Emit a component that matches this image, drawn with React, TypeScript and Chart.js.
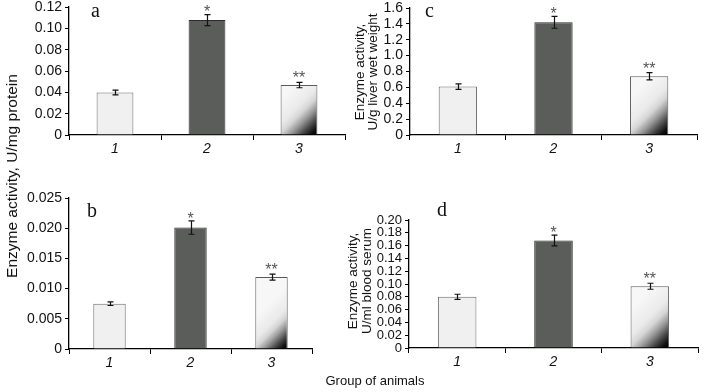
import { useEffect, useRef } from "react";
import { Chart, registerables } from "chart.js";

Chart.register(...registerables);

// ---------- data ----------
const groups = ["1", "2", "3"];
const marks = ["", "*", "**"];

const aValues = [0.0398, 0.1077, 0.0468];
const aErrors = [0.0022, 0.0052, 0.0025];
const aTicks = [0, 0.02, 0.04, 0.06, 0.08, 0.1, 0.12];
const aTickLabels = ["0", "0.02", "0.04", "0.06", "0.08", "0.10", "0.12"];

const bValues = [0.0075, 0.0201, 0.0119];
const bErrors = [0.0003, 0.0011, 0.0005];
const bTicks = [0, 0.005, 0.01, 0.015, 0.02, 0.025];
const bTickLabels = ["0", "0.005", "0.010", "0.015", "0.020", "0.025"];

const cValues = [0.61, 1.42, 0.74];
const cErrors = [0.035, 0.075, 0.045];
const cTicks = [0, 0.2, 0.4, 0.6, 0.8, 1.0, 1.2, 1.4, 1.6];
const cTickLabels = ["0", "0.2", "0.4", "0.6", "0.8", "1.0", "1.2", "1.4", "1.6"];

const dValues = [0.08, 0.168, 0.0965];
const dErrors = [0.004, 0.0083, 0.0047];
const dTicks = [0, 0.02, 0.04, 0.06, 0.08, 0.1, 0.12, 0.14, 0.16, 0.18, 0.2];
const dTickLabels = ["0", "0.02", "0.04", "0.06", "0.08", "0.10", "0.12", "0.14", "0.16", "0.18", "0.20"];

const sharedYTitle = "Enzyme activity, U/mg protein";
const cYTitle = ["Enzyme activity,", "U/g liver wet weight"];
const dYTitle = ["Enzyme activity,", "U/ml blood serum"];
const xTitle = "Group of animals";

// ---------- styling / layout ----------
const SANS = "'Liberation Sans', Arial, Helvetica, sans-serif";
const SERIF = "'Liberation Serif', 'Times New Roman', serif";
const fills = ["#f0f0f0", "#5b5d5b", "#eeeeee"];
const borders = ["#6a6a6a", "#2a2a2a", "#5a5a5a"];

type Panel = {
  letter: string;
  values: number[];
  errors: number[];
  ticks: number[];
  tickLabels: string[];
  box: { left: number; top: number; w: number; h: number };
  area: { l: number; r: number; t: number; b: number };
  letterPos: { x: number; y: number };
  tickFont: number;
};

const panels: Panel[] = [
  {
    letter: "a", values: aValues, errors: aErrors, ticks: aTicks, tickLabels: aTickLabels,
    box: { left: 0, top: 0, w: 350, h: 160 }, area: { l: 69, r: 345, t: 7, b: 135 },
    letterPos: { x: 91, y: 17 }, tickFont: 14,
  },
  {
    letter: "b", values: bValues, errors: bErrors, ticks: bTicks, tickLabels: bTickLabels,
    box: { left: 0, top: 160, w: 350, h: 215 }, area: { l: 69, r: 312, t: 38, b: 189 },
    letterPos: { x: 87, y: 57 }, tickFont: 14,
  },
  {
    letter: "c", values: cValues, errors: cErrors, ticks: cTicks, tickLabels: cTickLabels,
    box: { left: 350, top: 0, w: 353, h: 160 }, area: { l: 60, r: 347, t: 8, b: 135 },
    letterPos: { x: 75, y: 17 }, tickFont: 14,
  },
  {
    letter: "d", values: dValues, errors: dErrors, ticks: dTicks, tickLabels: dTickLabels,
    box: { left: 350, top: 160, w: 353, h: 215 }, area: { l: 59, r: 348, t: 60, b: 188 },
    letterPos: { x: 87, y: 56 }, tickFont: 13,
  },
];

function makeOverlay(p: Panel) {
  return {
    id: "overlay" + p.letter,
    afterDatasetsDraw(chart: any) {
      const ctx = chart.ctx;
      const ys = chart.scales.y;
      const meta = chart.getDatasetMeta(0);
      ctx.save();
      meta.data.forEach((bar: any, i: number) => {
        const v = p.values[i];
        const e = p.errors[i];
        const x = Math.round(bar.x) + 0.5;
        const yHi = ys.getPixelForValue(v + e);
        const yLo = ys.getPixelForValue(v - e);
        ctx.strokeStyle = "#111";
        ctx.lineWidth = 1.2;
        ctx.beginPath();
        ctx.moveTo(x, yHi);
        ctx.lineTo(x, yLo);
        ctx.moveTo(x - 3, yHi);
        ctx.lineTo(x + 3, yHi);
        ctx.moveTo(x - 3, yLo);
        ctx.lineTo(x + 3, yLo);
        ctx.stroke();
        if (marks[i]) {
          const fs = 16;
          const gap = marks[i].length > 1 ? 6 : 4;
          ctx.fillStyle = "#555";
          ctx.font = `${fs}px ${SANS}`;
          ctx.textAlign = "center";
          ctx.textBaseline = "alphabetic";
          ctx.fillText(marks[i], bar.x, yHi - gap + 0.43 * fs);
        }
      });
      ctx.fillStyle = "#111";
      ctx.font = `20px ${SERIF}`;
      ctx.textAlign = "left";
      ctx.textBaseline = "alphabetic";
      ctx.fillText(p.letter, p.letterPos.x, p.letterPos.y);
      ctx.restore();
    },
  };
}

function makeChart(canvas: HTMLCanvasElement, p: Panel) {
  const bg = (c: any) => {
    const i = c.dataIndex;
    if (i !== 2) return fills[i];
    const chart = c.chart;
    const xs = chart.scales && chart.scales.x;
    const ys = chart.scales && chart.scales.y;
    if (!xs || !ys || !chart.chartArea) return fills[2];
    const cx = xs.getPixelForValue(i);
    const w = (xs.width / groups.length) * 0.4;
    const right = cx + w / 2;
    const bottom = ys.getPixelForValue(0);
    const g = chart.ctx.createLinearGradient(right - w, bottom - w, right, bottom);
    g.addColorStop(0, "#f7f7f7");
    g.addColorStop(0.35, "#eaeaea");
    g.addColorStop(0.48, "#d6d6d6");
    g.addColorStop(0.62, "#9a9a9a");
    g.addColorStop(0.78, "#454545");
    g.addColorStop(0.9, "#101010");
    g.addColorStop(1, "#000000");
    return g;
  };

  return new Chart(canvas, {
    type: "bar",
    data: {
      labels: groups,
      datasets: [
        {
          data: p.values,
          backgroundColor: bg as any,
          borderColor: borders,
          borderWidth: 1,
          borderSkipped: "start",
          barPercentage: 0.4,
          categoryPercentage: 1,
        },
      ],
    },
    options: {
      responsive: false,
      animation: false,
      devicePixelRatio: 1,
      layout: {
        padding: { left: 0, top: p.area.t, right: p.box.w - p.area.r, bottom: 0 },
      },
      plugins: {
        legend: { display: false },
        tooltip: { enabled: false },
        title: { display: false },
      },
      scales: {
        x: {
          type: "category",
          offset: true,
          grid: {
            display: true,
            offset: true,
            drawOnChartArea: false,
            drawTicks: true,
            tickLength: 5,
            color: "#000",
            lineWidth: 1,
          },
          border: { display: true, color: "#000", width: 1.3 },
          ticks: {
            color: "#111",
            font: { family: SANS, size: 14, style: "italic" },
            padding: 1,
            maxRotation: 0,
          },
          afterFit(scale: any) {
            scale.height = p.box.h - p.area.b;
            scale.paddingLeft = 0;
            scale.paddingRight = 0;
          },
        } as any,
        y: {
          type: "linear",
          min: 0,
          max: p.ticks[p.ticks.length - 1],
          afterBuildTicks(scale: any) {
            scale.ticks = p.ticks.map((v) => ({ value: v }));
          },
          grid: {
            display: true,
            drawOnChartArea: false,
            drawTicks: true,
            tickLength: 4,
            color: "#000",
            lineWidth: 1,
          },
          border: { display: true, color: "#000", width: 1.3 },
          ticks: {
            autoSkip: false,
            color: "#111",
            padding: 3,
            font: { family: SANS, size: p.tickFont },
            callback: (_v: any, idx: number) => p.tickLabels[idx],
          },
          afterFit(scale: any) {
            scale.width = p.area.l;
            scale.paddingTop = 0;
            scale.paddingBottom = 0;
          },
        } as any,
      },
    },
    plugins: [makeOverlay(p)],
  });
}

// Rotated title: an integer-sized box centred on (cx, cy), rotated -90deg about its centre
function RotTitle(props: { lines: string[]; cx: number; cy: number; size: number; lh: number; len: number }) {
  const h = props.lh * props.lines.length;
  return (
    <div
      style={{
        position: "absolute",
        left: props.cx - props.len / 2,
        top: props.cy - h / 2,
        width: props.len,
        height: h,
        transform: "rotate(-90deg)",
        transformOrigin: "50% 50%",
        whiteSpace: "nowrap",
        textAlign: "center",
        fontFamily: SANS,
        fontSize: props.size,
        lineHeight: props.lh + "px",
        color: "#111",
      }}
    >
      {props.lines.map((l, i) => (
        <div key={i}>{l}</div>
      ))}
    </div>
  );
}

export default function App() {
  const refs = [
    useRef<HTMLCanvasElement>(null),
    useRef<HTMLCanvasElement>(null),
    useRef<HTMLCanvasElement>(null),
    useRef<HTMLCanvasElement>(null),
  ];

  useEffect(() => {
    const charts = panels.map((p, i) => makeChart(refs[i].current as HTMLCanvasElement, p));
    return () => charts.forEach((c) => c.destroy());
  }, []);

  return (
    <div
      style={{
        position: "absolute",
        left: 0,
        top: 0,
        width: 703,
        height: 392,
        background: "#fff",
        overflow: "hidden",
      }}
    >
      {panels.map((p, i) => (
        <canvas
          key={p.letter}
          ref={refs[i]}
          width={p.box.w}
          height={p.box.h}
          style={{
            position: "absolute",
            left: p.box.left,
            top: p.box.top,
            width: p.box.w,
            height: p.box.h,
          }}
        />
      ))}
      <RotTitle lines={[sharedYTitle]} cx={12} cy={176} size={15.5} lh={18} len={260} />
      <RotTitle lines={cYTitle} cx={366} cy={72} size={13.5} lh={13} len={150} />
      <RotTitle lines={dYTitle} cx={360} cy={281} size={13.5} lh={14} len={150} />
      <div
        style={{
          position: "absolute",
          left: 315,
          top: 373,
          width: 120,
          height: 16,
          lineHeight: "16px",
          textAlign: "center",
          whiteSpace: "nowrap",
          fontFamily: SANS,
          fontSize: 13,
          color: "#111",
        }}
      >
        {xTitle}
      </div>
    </div>
  );
}
